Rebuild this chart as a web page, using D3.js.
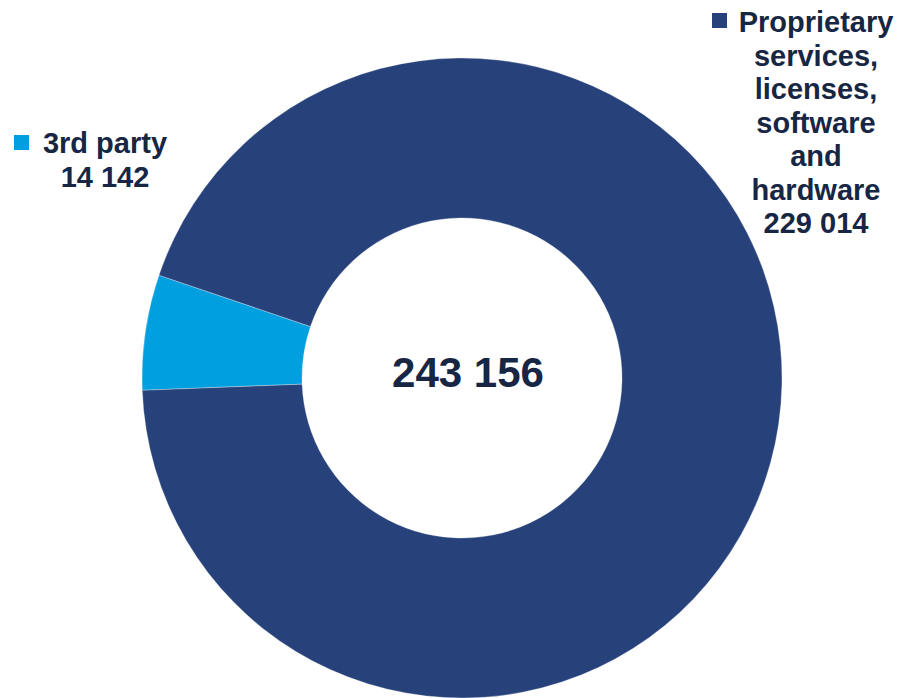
<!DOCTYPE html>
<html>
<head>
<meta charset="utf-8">
<script src="https://cdn.jsdelivr.net/npm/d3@7/dist/d3.min.js"></script>
<style>
  html, body { margin: 0; padding: 0; background: #fff; }
  svg { display: block; }
</style>
</head>
<body>
<div id="chart"></div>
<script>
const categories = ['3rd party', 'Proprietary services, licenses, software and hardware'];
const values = [14142, 229014];
const totalLabel = '243 156';
const valueLabels = ['14 142', '229 014'];
const labelLines = [
  ['3rd party', '14 142'],
  ['Proprietary', 'services,', 'licenses,', 'software', 'and', 'hardware', '229 014']
];

const width = 900, height = 698;
const colors = ['#009FDF', '#27427B'];
const textColor = '#172643';
const font = '"Liberation Sans", Arial, sans-serif';

const svg = d3.select('#chart').append('svg').attr('width', width).attr('height', height);

const cx = 462, cy = 378, outerR = 320, innerR = 160;
const start = 267.8 * Math.PI / 180;

const pie = d3.pie().sort(null).startAngle(start).endAngle(start + 2 * Math.PI);
const arc = d3.arc().innerRadius(innerR).outerRadius(outerR);

const g = svg.append('g').attr('transform', `translate(${cx},${cy})`);
g.selectAll('path').data(pie(values)).join('path')
  .attr('d', arc)
  .attr('fill', (d, i) => colors[i])
  .attr('stroke', '#ffffff').attr('stroke-width', 0.5).attr('stroke-opacity', 0.6);

svg.append('text').attr('x', 468).attr('y', 387).attr('text-anchor', 'middle')
  .attr('font-family', font).attr('font-weight', 'bold').attr('font-size', 42)
  .attr('fill', textColor).text(totalLabel);

// labels with legend squares
const labelPos = [
  { cx: 105, y: 153, sq: [14, 135] },
  { cx: 816, y: 32, sq: [712, 13] }
];
const lh = 33.5;
labelLines.forEach((lines, i) => {
  const p = labelPos[i];
  svg.append('rect').attr('x', p.sq[0]).attr('y', p.sq[1]).attr('width', 15).attr('height', 15).attr('fill', colors[i]);
  const t = svg.append('text').attr('text-anchor', 'middle')
    .attr('font-family', font).attr('font-weight', 'bold').attr('font-size', 29).attr('fill', textColor);
  lines.forEach((line, j) => {
    t.append('tspan').attr('x', p.cx).attr('y', p.y + j * lh).text(line);
  });
});
</script>
</body>
</html>
